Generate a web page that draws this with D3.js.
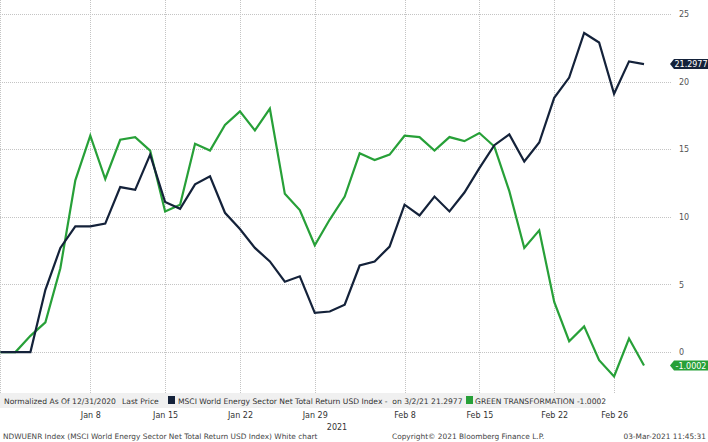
<!DOCTYPE html>
<html><head><meta charset="utf-8">
<script src="https://cdn.jsdelivr.net/npm/d3@7"></script>
<style>
html,body{margin:0;padding:0;background:#fff;}
svg{display:block;font-family:"DejaVu Sans",Verdana,sans-serif;}
text{white-space:pre;}
</style></head>
<body>
<svg id="chart" width="708" height="442"></svg>
<script>
const dates = ["2020-12-31","2021-01-01","2021-01-04","2021-01-05","2021-01-06","2021-01-07","2021-01-08",
"2021-01-11","2021-01-12","2021-01-13","2021-01-14","2021-01-15",
"2021-01-18","2021-01-19","2021-01-20","2021-01-21","2021-01-22",
"2021-01-25","2021-01-26","2021-01-27","2021-01-28","2021-01-29",
"2021-02-01","2021-02-02","2021-02-03","2021-02-04","2021-02-05","2021-02-08",
"2021-02-09","2021-02-10","2021-02-11","2021-02-12","2021-02-15",
"2021-02-16","2021-02-17","2021-02-18","2021-02-19","2021-02-22",
"2021-02-23","2021-02-24","2021-02-25","2021-02-26","2021-03-01","2021-03-02"];
const msci = [0,0,0,4.6,7.7,9.3,9.3,9.5,12.2,12.0,14.6,11.1,10.6,12.4,13.0,10.3,9.1,7.7,6.7,5.2,5.6,2.9,3.0,3.5,6.4,6.7,7.8,10.9,10.1,11.5,10.4,11.8,13.6,15.3,16.1,14.1,15.5,18.8,20.3,23.6,22.9,19.1,21.5,21.2977];
const green = [0,0,1.2,2.2,6.2,12.7,16.0,12.8,15.7,15.9,14.9,10.4,10.9,15.4,14.9,16.8,17.8,16.4,18.0,11.7,10.5,7.9,9.8,11.5,14.7,14.2,14.6,16.0,15.9,14.9,15.9,15.6,16.2,15.2,11.9,7.7,9.0,3.7,0.8,1.9,-0.6,-1.8,1.0,-1.0002];
const tickDates = ["2021-01-08","2021-01-15","2021-01-22","2021-01-29","2021-02-08","2021-02-15","2021-02-22","2021-02-26"];
const tickLabels = ["Jan 8","Jan 15","Jan 22","Jan 29","Feb 8","Feb 15","Feb 22","Feb 26"];
const yTicks = [0,5,10,15,20,25];
const seriesNames = ["MSCI World Energy Sector Net Total Return USD Index -  on 3/2/21 21.2977","GREEN TRANSFORMATION -1.0002"];
const lastLabels = ["21.2977","-1.0002"];

const NAVY = "#14223a", GREEN = "#27a038", GRID = "#c4c4c4", TXT = "#333";
const svg = d3.select("#chart");
const plotR = 672, plotB = 393;

const x = d3.scalePoint().domain(dates).range([0.5, 644]);
const y = d3.scaleLinear().domain([-3.03, 26.04]).range([plotB, 0]);

// horizontal grid
svg.append("g").selectAll("line").data(yTicks).join("line")
  .attr("x1", 0).attr("x2", plotR)
  .attr("y1", d => Math.round(y(d)) + 0.5).attr("y2", d => Math.round(y(d)) + 0.5)
  .attr("stroke", GRID).attr("stroke-width", 1).attr("stroke-dasharray", "1,1");
// vertical grid
svg.append("g").selectAll("line").data(tickDates).join("line")
  .attr("x1", d => Math.round(x(d)) + 0.5).attr("x2", d => Math.round(x(d)) + 0.5)
  .attr("y1", 0).attr("y2", plotB)
  .attr("stroke", GRID).attr("stroke-width", 1).attr("stroke-dasharray", "1,1");
svg.append("line").attr("x1",0.5).attr("x2",0.5).attr("y1",0).attr("y2",plotB)
  .attr("stroke", GRID).attr("stroke-dasharray","1,1");

// right axis
const yAxis = d3.axisRight(y).tickValues(yTicks).tickSize(0).tickPadding(0).tickFormat(d3.format("d"));
const ya = svg.append("g").attr("transform", `translate(679,0)`).call(yAxis);
ya.select(".domain").remove();
ya.selectAll("text").attr("fill", "#555").attr("font-size", "8px").attr("font-family","DejaVu Sans, sans-serif");

// lines
const line = arr => d3.line().x((d, i) => x(dates[i])).y(d => y(d))(arr);
svg.append("path").attr("d", line(green)).attr("fill","none").attr("stroke", GREEN).attr("stroke-width", 2.2).attr("stroke-linejoin","miter");
svg.append("path").attr("d", line(msci)).attr("fill","none").attr("stroke", NAVY).attr("stroke-width", 2.2).attr("stroke-linejoin","miter");

// last value labels
[[msci, NAVY, lastLabels[0]], [green, GREEN, lastLabels[1]]].forEach(([arr, col, txt]) => {
  const yv = y(arr[arr.length - 1]);
  const g = svg.append("g").attr("transform", `translate(0,${yv})`);
  g.append("path").attr("d", "M670,0 L674,-5 L708,-5 L708,5 L674,5 Z").attr("fill", col);
  g.append("text").attr("x", 691).attr("y", 3).attr("text-anchor","middle")
    .attr("fill","#fff").attr("font-size","8px").text(txt);
});

// legend band
svg.append("rect").attr("x",0).attr("y",plotB).attr("width",600).attr("height",15).attr("fill","#f0f0f0");
const leg = svg.append("g").attr("font-size","7.6px").attr("fill",TXT);
leg.append("text").attr("x",4).attr("y",404).text("Normalized As Of 12/31/2020");
leg.append("text").attr("x",122).attr("y",404).text("Last Price");
leg.append("rect").attr("x",168).attr("y",396).attr("width",7).attr("height",8).attr("fill",NAVY);
leg.append("text").attr("x",178).attr("y",404).text(seriesNames[0]);
leg.append("rect").attr("x",466).attr("y",396).attr("width",7).attr("height",8).attr("fill",GREEN);
leg.append("text").attr("x",475).attr("y",404).text(seriesNames[1]);

// x axis labels
const xAxis = d3.axisBottom(x).tickValues(tickDates).tickSize(0).tickPadding(0)
  .tickFormat((d) => tickLabels[tickDates.indexOf(d)]);
const xa = svg.append("g").attr("transform", `translate(0,412)`).call(xAxis);
xa.select(".domain").remove();
xa.selectAll("text").attr("fill", TXT).attr("font-size","8px").attr("font-family","DejaVu Sans, sans-serif");
svg.append("text").attr("x",337).attr("y",430).attr("text-anchor","middle").attr("font-size","8px").attr("fill",TXT).text("2021");

// footer
const ft = svg.append("g").attr("font-size","7.4px").attr("fill","#444");
ft.append("text").attr("x",3).attr("y",439).text("NDWUENR Index (MSCI World Energy Sector Net Total Return USD Index) White chart");
ft.append("text").attr("x",392).attr("y",439).text("Copyright© 2021 Bloomberg Finance L.P.");
ft.append("text").attr("x",706).attr("y",439).attr("text-anchor","end").text("03-Mar-2021 11:45:31");
</script>
</body></html>
